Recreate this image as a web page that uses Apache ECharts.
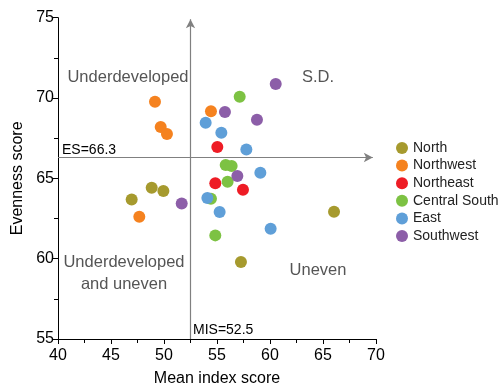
<!DOCTYPE html>
<html><head><meta charset="utf-8">
<script src="https://cdn.jsdelivr.net/npm/echarts@6/dist/echarts.min.js"></script>
<style>html,body{margin:0;padding:0;background:#fff}#c{width:498px;height:387px}</style>
</head><body><div id="c"></div>
<script>
const regions = ['North','Northwest','Northeast','Central South','East','Southwest'];
const colors = ['#a69a2e','#f5821f','#ee1c25','#7dc243','#5f9fd8','#8c5ea8'];
const north = [[46.95,63.69],[48.84,64.41],[49.94,64.21],[66.04,62.92],[57.26,59.79]];
const northwest = [[49.15,69.77],[49.69,68.19],[50.28,67.76],[54.43,69.17],[47.67,62.61]];
const northeast = [[55.03,66.95],[54.84,64.69],[57.45,64.29]];
const centralSouth = [[57.14,70.08],[55.82,65.83],[56.38,65.77],[56.0,64.79],[54.43,63.73],[54.84,61.45]];
const east = [[53.93,68.46],[55.41,67.84],[57.77,66.80],[59.09,65.35],[54.09,63.77],[55.25,62.90],[60.06,61.86]];
const southwest = [[60.54,70.87],[55.75,69.13],[58.77,68.65],[56.92,65.14],[51.67,63.44]];
const seriesData = [north, northwest, northeast, centralSouth, east, southwest];
const ES = 66.3, MIS = 52.5;
const xTicks = [40,45,50,55,60,65,70];
const yTicks = [55,60,65,70,75];

const chart = echarts.init(document.getElementById('c'));
const font = 'Liberation Sans, Arial, sans-serif';
const series = regions.map((r,i)=>({
  name:r, type:'scatter', data:seriesData[i], symbolSize:12,
  itemStyle:{color:colors[i], opacity:1}, z:3
}));
series.push({
  type:'line', data:[], silent:true,
  markLine:{
    silent:true, symbol:['none','arrow'], symbolSize:[7,9],
    lineStyle:{color:'#808080', width:1.2, type:'solid'},
    label:{show:false},
    data:[
      [{coord:[xTicks[0],ES]},{coord:[69.7,ES]}],
      [{coord:[MIS,yTicks[0]]},{coord:[MIS,74.9]}]
    ]
  }
});
chart.setOption({
  animation:false,
  textStyle:{fontFamily:font},
  grid:{left:58, right:122, top:17.7, bottom:48, containLabel:false, outerBoundsMode:'none'},
  xAxis:{type:'value', min:40, max:70, interval:5,
    name:'Mean index score', nameLocation:'middle', nameGap:32,
    nameTextStyle:{fontSize:16, color:'#000', fontFamily:font},
    axisLine:{show:true, onZero:false, lineStyle:{color:'#000'}},
    axisTick:{show:true, length:5, lineStyle:{color:'#000'}},
    minorTick:{show:true, splitNumber:2, length:4, lineStyle:{color:'#000'}},
    axisLabel:{fontSize:16, color:'#000', margin:9, fontFamily:font},
    splitLine:{show:false}},
  yAxis:{type:'value', min:55, max:75, interval:5,
    name:'Evenness score', nameLocation:'middle', nameGap:31,
    nameTextStyle:{fontSize:16, color:'#000', fontFamily:font},
    axisLine:{show:true, onZero:false, lineStyle:{color:'#000'}},
    axisTick:{show:true, length:5, lineStyle:{color:'#000'}},
    minorTick:{show:true, splitNumber:2, length:4, lineStyle:{color:'#000'}},
    axisLabel:{fontSize:16, color:'#000', margin:4, fontFamily:font},
    splitLine:{show:false}},
  legend:{orient:'vertical', left:391, top:136, icon:'circle', itemWidth:12, itemHeight:12, itemGap:3.6,
    data:regions, textStyle:{fontSize:14, color:'#222', fontFamily:font}},
  graphic:[
    {type:'text', left:62, top:143, style:{text:'ES=66.3', fill:'#000', font:'14px '+font}},
    {type:'text', left:193, top:323, style:{text:'MIS=52.5', fill:'#000', font:'14px '+font}},
    {type:'text', x:128, y:77, style:{text:'Underdeveloped', fill:'#555', font:'16.5px '+font, align:'center', verticalAlign:'middle'}},
    {type:'text', x:318, y:77, style:{text:'S.D.', fill:'#555', font:'16.5px '+font, align:'center', verticalAlign:'middle'}},
    {type:'text', x:124, y:273, style:{text:'Underdeveloped\nand uneven', fill:'#555', font:'16.5px '+font, align:'center', verticalAlign:'middle', lineHeight:22}},
    {type:'text', x:318, y:270, style:{text:'Uneven', fill:'#555', font:'16.5px '+font, align:'center', verticalAlign:'middle'}}
  ],
  series:series
});
</script></body></html>
